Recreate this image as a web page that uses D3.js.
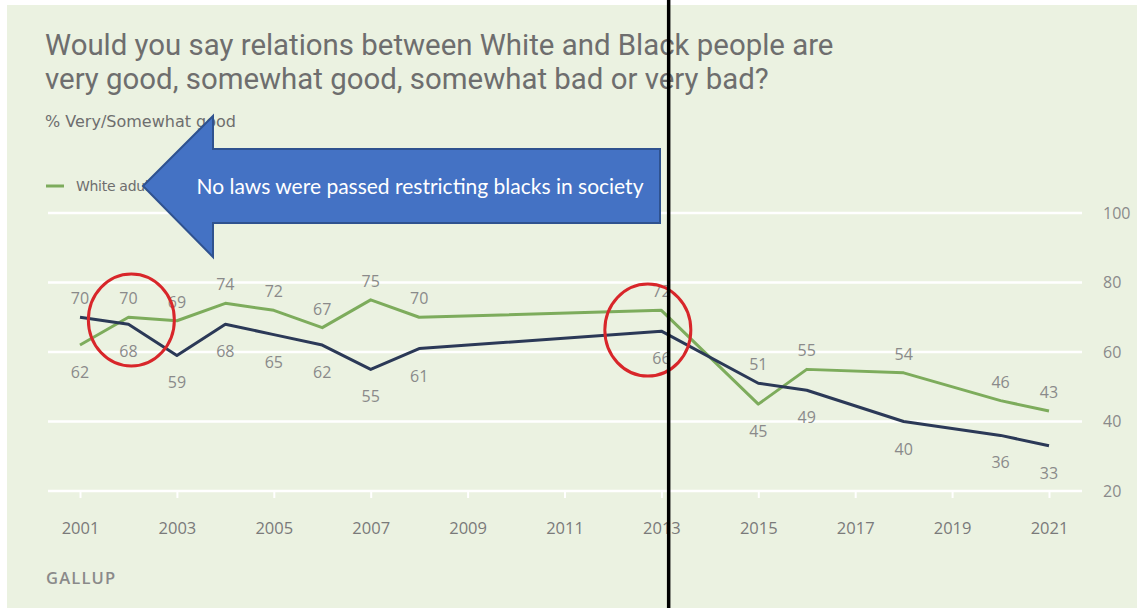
<!DOCTYPE html>
<html><head><meta charset="utf-8">
<script src="https://cdn.jsdelivr.net/npm/d3@7"></script>
<style>body{margin:0;background:#fff;} svg{display:block}</style>
</head><body><svg id="c" width="1137" height="608"></svg>
<script>
// ---- data ----
const years = [2001,2002,2003,2004,2005,2006,2007,2008,2013,2015,2016,2018,2020,2021];
const whiteAdults = [62,70,69,74,72,67,75,70,72,45,55,54,46,43];
const blackAdults = [70,68,59,68,65,62,55,61,66,51,49,40,36,33];
const xTickYears = [2001,2003,2005,2007,2009,2011,2013,2015,2017,2019,2021];
const yTickValues = [20,40,60,80,100];
const titleLines = ["Would you say relations between White and Black people are",
                    "very good, somewhat good, somewhat bad or very bad?"];
const subtitle = "% Very/Somewhat good";
const legendLabel = "White adults";
const arrowText = "No laws were passed restricting blacks in society";
const source = "GALLUP";
const circleMarks = [{year:2002.06, value:69.2},{year:2012.72, value:66.3}];
const dividerYear = 2013.15;

// ---- layout ----
const W = 1137, H = 608;
const svg = d3.select("#c");
const x = d3.scaleLinear().domain([2001,2021]).range([80,1049]);
const y = d3.scaleLinear().domain([20,100]).range([491,213]);
const GREEN = "#7dac5c", NAVY = "#2b3957", LABEL = "#8a8a8a";

svg.append("rect").attr("x",7).attr("y",5).attr("width",W-7).attr("height",H-5).attr("fill","#ebf2e1");

// title
svg.append("g").selectAll("text").data(titleLines).join("text")
  .attr("x",45).attr("y",(d,i)=>55+i*34)
  .attr("font-family","Roboto, 'Noto Sans', sans-serif").attr("font-size",29.4)
  .attr("fill","#6e6e6e").text(d=>d);
svg.append("text").attr("x",45).attr("y",127)
  .attr("font-family","'DejaVu Sans', sans-serif").attr("font-size",16)
  .attr("fill","#6e6e6e").text(subtitle);

// legend
svg.append("line").attr("x1",46).attr("x2",64).attr("y1",186).attr("y2",186)
  .attr("stroke",GREEN).attr("stroke-width",3);
svg.append("text").attr("x",76).attr("y",191)
  .attr("font-family","'DejaVu Sans', sans-serif").attr("font-size",14).attr("letter-spacing",-0.3)
  .attr("fill","#6e6e6e").text(legendLabel);

// gridlines
svg.append("g").selectAll("line").data(yTickValues).join("line")
  .attr("x1",48).attr("x2",1082).attr("y1",d=>y(d)).attr("y2",d=>y(d))
  .attr("stroke","#ffffff").attr("stroke-width",2.5);

// right y labels
svg.append("g").selectAll("text").data(yTickValues).join("text")
  .attr("x",1103).attr("y",d=>y(d)).attr("dy","0.35em")
  .attr("font-family","'Open Sans', sans-serif").attr("font-size",16)
  .attr("fill","#8a8a8a").text(d=>d);

// x axis
const xAxis = d3.axisBottom(x).tickValues(xTickYears).tickFormat(d3.format("d")).tickSize(7).tickPadding(24);
const gx = svg.append("g").attr("transform",`translate(0,${y(20)})`).call(xAxis);
gx.select(".domain").remove();
gx.selectAll(".tick line").attr("stroke","#ffffff").attr("stroke-width",2);
gx.selectAll(".tick text").attr("font-family","'Open Sans', sans-serif").attr("font-size",16.5).attr("fill","#7a7a7a");

// lines
const pts = (vals)=>years.map((yr,i)=>[yr,vals[i]]);
const line = d3.line().x(d=>x(d[0])).y(d=>y(d[1]));
svg.append("path").attr("d",line(pts(whiteAdults))).attr("fill","none").attr("stroke",GREEN).attr("stroke-width",3).attr("stroke-linejoin","round");
svg.append("path").attr("d",line(pts(blackAdults))).attr("fill","none").attr("stroke",NAVY).attr("stroke-width",3).attr("stroke-linejoin","round");

// value labels
const labels = [];
years.forEach((yr,i)=>{
  const w = whiteAdults[i], b = blackAdults[i];
  labels.push({yr, v:w, above: w>=b});
  labels.push({yr, v:b, above: b>w});
});
svg.append("g").selectAll("text").data(labels).join("text")
  .attr("x",d=>x(d.yr)).attr("y",d=>y(d.v)+(d.above?-13:33))
  .attr("text-anchor","middle")
  .attr("font-family","'Open Sans', sans-serif").attr("font-size",16)
  .attr("fill",LABEL).text(d=>d.v);

// source
svg.append("text").attr("x",46).attr("y",584)
  .attr("font-family","'Open Sans', sans-serif").attr("font-size",16.5).attr("font-weight",600)
  .attr("letter-spacing",1.2).attr("fill","#8a8a8a").text(source);

// red circles
svg.append("g").selectAll("ellipse").data(circleMarks).join("ellipse")
  .attr("cx",d=>x(d.year)).attr("cy",d=>y(d.value)).attr("rx",43).attr("ry",46)
  .attr("fill","none").attr("stroke","#d8262a").attr("stroke-width",3);

// arrow annotation
const ax0=143, axHead=213, ax1=660, ayMid=186, headTop=116, bodyTop=149, bodyBot=223, headBot=257;
svg.append("path")
  .attr("d",`M${ax0},${ayMid} L${axHead},${headTop} L${axHead},${bodyTop} L${ax1},${bodyTop} L${ax1},${bodyBot} L${axHead},${bodyBot} L${axHead},${headBot} Z`)
  .attr("fill","#4472c4").attr("stroke","#2f528f").attr("stroke-width",2);
svg.append("text").attr("x",420).attr("y",194).attr("text-anchor","middle")
  .attr("font-family","Lato, 'Open Sans', sans-serif").attr("font-size",21)
  .attr("fill","#ffffff").text(arrowText);

// black divider
svg.append("line").attr("x1",x(dividerYear)).attr("x2",x(dividerYear)).attr("y1",0).attr("y2",H)
  .attr("stroke","#000").attr("stroke-width",3.5);
</script></body></html>
